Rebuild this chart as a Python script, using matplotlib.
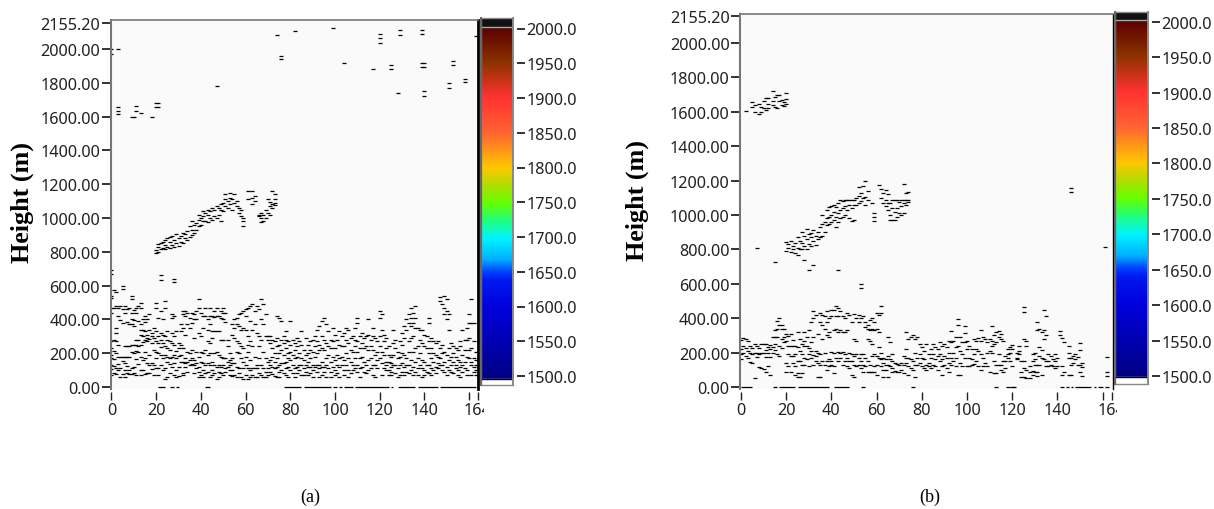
import numpy as np
import matplotlib
matplotlib.use("Agg")
import matplotlib.pyplot as plt
from matplotlib.colors import LinearSegmentedColormap
from matplotlib.transforms import Bbox

W, H = 1214, 510
Y_TICKS = [0, 200, 400, 600, 800, 1000, 1200, 1400, 1600, 1800, 2000, 2155.2]
Y_LABELS = ["0.00", "200.00", "400.00", "600.00", "800.00", "1000.00", "1200.00",
            "1400.00", "1600.00", "1800.00", "2000.00", "2155.20"]
X_TICKS = [0, 20, 40, 60, 80, 100, 120, 140, 160, 164]
X_LABELS = ["0", "20", "40", "60", "80", "100", "120", "140", "", "164"]
CB_TICKS = [1500, 1550, 1600, 1650, 1700, 1750, 1800, 1850, 1900, 1950, 2000]
CB_LABELS = ["%.1f" % v for v in CB_TICKS]

# Panel (a): (range gate, [heights])
a_sparse = [(0,[2000,1970]),(3,[2000,1655,1635,1613]),(9,[1600]),(10,[1600]),(11,[1660,1635]),(13,[1620]),
            (18,[1600]),(20,[1680,1655]),(21,[1680,1655]),(47,[1780]),(74,[2085]),(76,[1960,1940]),(82,[2105]),
            (99,[2126]),(120,[2087,2063,2037]),(129,[2110,2082]),(139,[2115,2090,1916,1892]),(163,[2076]),
            (104,[1916]),(117,[1882]),(125,[1905,1882]),(140,[1916,1892,1749,1723]),(153,[1930,1905]),
            (151,[1800,1770]),(158,[1820,1802]),(128,[1741]),(22,[660,635]),(28,[640,620])]
a_band = [(20,[790,810]),(21,[800,830,845]),(22,[815,850]),(23,[825,860]),(24,[815,840,870]),(25,[830,880]),
          (26,[820,860,885]),(27,[840,895]),(28,[830,870]),(29,[850,905]),(30,[835,880]),(31,[860,895]),
          (32,[850,910]),(33,[880,905]),(34,[870,925]),(35,[890,950]),(36,[900,930,980]),(37,[910,960]),
          (38,[930,970]),(39,[950,990,1020]),(40,[960,1000]),(41,[980,1010,1040]),(42,[985,1030]),
          (43,[975,1020,1050]),(44,[1000,1040]),(45,[990,1060]),(46,[1010,1050]),(47,[1000,1070]),
          (48,[1020,1060]),(49,[980,1050,1080]),(50,[1040,1090]),(51,[1070,1110,1140]),(52,[1060,1100]),
          (53,[1080,1120,1150]),(54,[1050,1110]),(55,[1090,1140]),(56,[1070,1100]),(57,[1030,1060]),
          (58,[1010,1050]),(59,[950,985,1000]),(61,[1160,1110]),(63,[1085,1120,1160]),(64,[1100,1130]),
          (66,[1010,1020]),(67,[975,1000,1030]),(68,[985,1015]),(69,[1050,1000]),(70,[1030,1110]),
          (71,[1020,1070,1095]),(72,[1160,1080,1060]),(73,[1140,1090,1110,1075])]
a_cloud1 = [(0,[695,670,540,525,470,440,270,230,190,170,130,105,70]),(1,[575,465,280,215,165,125,85]),
            (2,[560,480,350,320,275,200,115,75]),(3,[465,420,250,180,135,100]),(4,[480,395,180,110,60]),
            (5,[600,580,460,380,180,155,75]),(6,[480,440,245,180,140,100,60]),(7,[460,385,240,180,125,85]),
            (8,[465,370,240,180,100,75]),(9,[540,520,440,400,370,250,210,110,75]),(10,[455,395,360,250,200,120,80]),
            (11,[470,440,280,250,215,165,70]),(12,[480,390,280,240,210,135]),(13,[500,470,370,340,310,250,180,100,70]),
            (14,[400,340,300,265,160,100]),(15,[420,385,330,280,210,170,75]),(16,[400,310,290,270,140,80]),
            (17,[430,340,285,190,130,80]),(18,[320,300,260,140,105]),(19,[350,290,220,130,70]),
            (20,[500,470,330,275,210,170,110]),(21,[410,300,260,200,115,70]),(22,[450,320,280,235,190,130]),
            (23,[400,305,260,170,100]),(24,[510,470,300,240,190,110,50]),(25,[330,280,230,180,150,60]),
            (26,[270,220,170,135,80]),(27,[430,410,320,260,180,120]),(28,[420,300,250,190,140,70]),
            (29,[330,215,170,100,60]),(30,[260,230,185,120,65]),(31,[370,330,250,190,150]),
            (32,[450,430,350,230,145,85,70]),(33,[450,420,310,170,140,120]),(34,[440,370,210,150,90]),
            (35,[410,350,200,160,130]),(36,[440,380,220,170,135]),(37,[430,400,290,160,130,80]),
            (38,[450,400,210,140,110]),(39,[520,470,320,180,120,90,60]),(40,[440,300,210,150,70]),
            (41,[420,350,200,140,100,60]),(42,[465,420,220,130,80]),(43,[400,340,270,190,140,90])]
a_cloud2 = [(44,[470,420,370,260,200,130,60]),(45,[420,330,290,150,100,70]),(46,[450,415,330,200,130,80]),
            (47,[470,420,330,210,120,50]),(48,[420,330,190,130,90,60]),(49,[450,410,280,180,120,80]),
            (50,[470,440,400,280,170,130,70]),(51,[440,385,170,110,90]),(52,[280,240,150,120]),
            (53,[200,160,130,100,70]),(54,[370,310,170,140,100,65]),(55,[400,350,290,140,70]),
            (56,[410,370,270,210,120,60]),(57,[430,360,260,200,110,80]),(58,[440,340,240,170,60]),
            (59,[450,350,230,150,110,50]),(60,[460,420,340,180,130,70]),(61,[470,300,250,210,110,50]),
            (62,[480,390,270,160,100,60]),(63,[490,340,240,110,70]),(64,[450,370,180,110,60]),
            (65,[480,320,130,110,60]),(66,[460,300,240,170,80]),(67,[520,400,280,130,70]),
            (68,[490,370,210,110,60]),(69,[430,300,170,90,60]),(70,[300,280,150,110,70]),
            (71,[300,260,160,130,90]),(72,[280,230,180,120,75]),(73,[270,200,150,110,65]),
            (74,[420,290,240,170,120,60]),(75,[410,250,200,130,90,60]),(76,[390,280,220,140,100]),
            (77,[300,260,190,140,80]),(78,[330,280,230,150,110,70]),(79,[270,200,170,120,60]),
            (80,[390,250,210,160,100]),(81,[280,190,130,80]),(82,[260,220,170,110,60]),
            (83,[290,240,180,120,80]),(84,[270,200,130,100]),(85,[330,250,170,130,70]),
            (86,[220,160,110,70]),(87,[290,190,130,90])]
a_cloud3 = [(88,[250,200,150,120,70]),(89,[270,220,170,120,80]),(90,[280,210,130,100,60]),(91,[300,240,180,120]),
            (92,[340,270,200,130,90]),(93,[360,250,220,130,110,60]),(94,[390,300,230,150,120,70]),
            (95,[410,280,220,120,90]),(96,[370,260,170,130,60]),(97,[330,240,190,110]),
            (98,[280,230,150,90,60]),(99,[350,270,180,120]),(100,[310,230,160,100,70]),
            (101,[280,190,130,80]),(102,[330,250,170,120,60]),(103,[300,240,180,130]),
            (104,[320,240,160,100,70]),(105,[350,280,200,130]),(106,[340,260,170,100,60]),
            (107,[290,220,150,80]),(108,[300,210,130,100]),(109,[350,280,240,170,110]),
            (110,[410,380,270,210,130,90]),(111,[300,230,170,110,60]),(112,[320,260,180,120]),
            (113,[290,230,150,90]),(114,[300,240,130,80]),(115,[400,310,220,160,100]),
            (116,[280,240,170,110]),(117,[350,300,220,130,70]),(118,[290,190,130,60]),
            (119,[270,210,160,110]),(120,[450,410,300,240,170]),(121,[430,340,210,140,70]),
            (122,[310,270,190,110]),(123,[290,230,150,130,100]),(124,[240,190,150,100,70]),
            (125,[180,140,120,90,70]),(126,[340,260,190,130]),(127,[280,230,130,80]),
            (128,[210,170,110,60]),(129,[270,180,130,70])]
a_cloud4 = [(130,[320,250,200,140,90]),(131,[360,290,190,120,70]),(132,[400,340,170,130,90]),
            (133,[430,380,270,210,130,80]),(134,[470,410,360,290,160,100]),(135,[440,380,300,210,120,70]),
            (136,[480,410,350,230,150,90]),(137,[350,240,170,110,70]),(138,[340,280,200,130]),
            (139,[340,260,160,110,60]),(140,[310,240,150,100,70]),(141,[300,230,130,90]),
            (142,[410,380,270,200,130,80]),(143,[290,230,170,110,70]),(144,[270,200,150,100]),
            (145,[260,190,120,80]),(146,[270,180,140,110]),(147,[530,510,230,170,130]),
            (148,[490,250,200,130,100]),(149,[540,470,430,210,150,90]),(150,[520,450,400,190,120,70]),
            (151,[430,340,230,160,100]),(152,[260,180,130,90]),(153,[240,200,150,80]),
            (154,[230,180,130,110]),(155,[220,160,100,70]),(156,[270,240,150,120,60]),
            (157,[340,190,130,90]),(158,[280,220,150,110]),(159,[350,280,180,100,70]),
            (160,[430,380,290,220,170]),(161,[520,380,230,150,130,70]),(162,[380,270,170,120,90]),
            (163,[210,160,130,100,70])]
a_floor = [(21,24),(26,28),(29,30),(42,44),(77,85),(86,98),(99,101),(102,103),(104,108),(109,124),
           (125,126),(128,136),(137,146),(147,163)]

# Panel (b): (range gate, [heights])
b_sparse = [(2,[1606]),(5,[1658,1629]),(6,[1600,1640]),(8,[1590,1648]),(9,[1600,1630]),(10,[1620,1665]),
            (11,[1683,1610]),(12,[1648,1680,1625]),(14,[1722,1640,1665]),(15,[1687,1630]),(16,[1625,1695]),
            (17,[1696,1660]),(18,[1670,1640]),(19,[1633,1655]),(20,[1710,1677,1648]),(146,[1158,1131]),
            (161,[815]),(7,[810]),(15,[725]),(28,[741]),(30,[683]),(32,[708]),(43,[683]),(53,[600,574])]
b_band = [(20,[845,790]),(21,[807,830]),(22,[850,784]),(23,[820,800]),(24,[840,780]),(25,[875,810,770]),
          (26,[850,800]),(27,[903,840,800]),(28,[880,820]),(29,[917,860,805]),(30,[890,830]),
          (31,[894,870,820]),(32,[915,850]),(33,[826,880]),(34,[900,860]),(35,[875,930]),(36,[1000,950,880]),
          (37,[960,900]),(38,[1030,980,940]),(39,[1048,990,950]),(40,[1000,1050,960]),(41,[971,1020,1060]),
          (42,[1048,990,930]),(43,[1070,1010,960]),(44,[1087,1030,980]),(45,[1040,990,1080]),
          (46,[1090,1050,1000]),(47,[1087,1030]),(48,[1085,1060,985]),(49,[1087,1040,965]),(50,[971,1090,1060]),
          (51,[1100,1060]),(52,[1164,1110,1070]),(53,[1130,1080]),(54,[1170,1100]),(55,[1197,1106,1060]),
          (56,[1140,1090]),(58,[1067]),(59,[990,965,1010]),(61,[1174]),(62,[1150,1100]),(63,[1130,1070]),
          (64,[1145,1087,1050]),(65,[1120,1070,1030]),(66,[1067,1000,970]),(67,[971,1040,1090]),
          (68,[1090,1020,970]),(69,[1085,1040,990]),(70,[1075,1010]),(71,[1090,1050,1000]),
          (72,[1010,1183,1090,1070]),(73,[1130,1085,1060]),(74,[1135,1087,1075])]
b_cloud1 = [(0,[275,220,190,165]),(1,[285,240,200]),(2,[280,225,180]),(3,[265,210,170]),(4,[240,200,145]),
            (5,[225,190,140]),(6,[250,200,50]),(7,[240,200,175]),(8,[225,190,115]),(9,[250,195,110]),
            (10,[250,200,105]),(11,[250,215,175,90]),(12,[235,200,125]),(13,[245,220,175,70]),
            (14,[290,235,200]),(15,[330,290,250,215]),(16,[385,340,290,190]),(17,[400,360,240,180]),
            (18,[360,340,280,225]),(19,[340,290,260]),(20,[310,270,140,90]),(21,[295,240,190,120]),
            (22,[310,240,180,90]),(23,[275,240,180,140]),(24,[240,190,120,70]),(25,[320,235,150,80,60]),
            (26,[280,210,150,60]),(27,[250,190,130,80]),(28,[320,270,240,170,130]),(29,[290,240,160]),
            (30,[330,225,190,120]),(31,[380,260,210,170]),(32,[440,400,290,185,130]),(33,[420,210,180,150]),
            (34,[310,200,140,60]),(35,[430,380,190,130,60]),(36,[420,360,280,150]),(37,[410,340,200,130]),
            (38,[440,380,300,150,100]),(39,[400,320,290,160,120]),(40,[450,410,205,150,130]),
            (41,[450,330,200,120,80]),(42,[470,410,340,170]),(43,[460,410,320,205,150])]
b_cloud2 = [(44,[440,330,200,170]),(45,[410,320,205,130]),(46,[400,320,190,150]),(47,[430,330,170,120]),
            (48,[420,200,150,110]),(49,[380,190,150,70]),(50,[425,280,180,130,60]),(51,[400,270,190,120]),
            (52,[420,380,170,130]),(53,[400,190,150,110]),(54,[410,190,130,90]),(55,[380,350,170,120]),
            (56,[360,340,280,150,90]),(57,[390,330,270,130,90]),(58,[400,340,250,180,90]),
            (59,[380,330,190,120,90]),(60,[430,340,180,130,70]),(61,[420,320,230,170]),
            (62,[470,430,200,165,120]),(63,[170,140,100,60]),(64,[160,130,100]),(65,[290,180,130,60]),
            (66,[260,160,120]),(67,[190,150,110,90]),(68,[140,95]),(69,[135,90]),(70,[130,90]),
            (71,[140,100]),(72,[180,130,80]),(73,[320,220,170,140]),(74,[280,170,120,70]),(75,[290,160,110]),
            (76,[300,150,100]),(77,[280,200,130,60]),(78,[290,170,130]),(79,[250,190,140]),(80,[230,170,120]),
            (81,[210,160,110]),(82,[250,130,100]),(83,[190,140,120])]
b_cloud3 = [(84,[220,170,110]),(85,[250,190,130]),(86,[230,165,120]),(87,[220,180,100]),(88,[260,190,150]),
            (89,[240,160,120,70]),(90,[250,180,130]),(91,[230,170,110]),(92,[270,200,140,90]),
            (93,[328,260,170,130]),(94,[270,200,150]),(95,[290,230,170,120]),(96,[396,360,240,70]),
            (97,[290,210,140,70]),(98,[260,190,120]),(99,[353,314,260,170]),(100,[270,220,120]),
            (101,[240,170,125]),(102,[220,160,130]),(103,[280,190,135]),(104,[270,220,150]),(105,[285,210,125]),
            (106,[334,270,190,100]),(107,[290,170,125]),(108,[280,140]),(109,[260,200,120]),(110,[280,210,90]),
            (111,[353,270,240,200]),(112,[300,250,150,80]),(113,[320,260,130,80]),(114,[328,290,190,130]),
            (115,[310,280,130,100]),(116,[270,150,90]),(117,[180,150,110]),(118,[220,190,170]),
            (119,[230,195,150]),(120,[245,220,120])]
b_cloud4 = [(122,[200,170,160]),(123,[240,210,190]),(124,[60,150,90]),(125,[465,435,280,150,110,60]),
            (126,[270,240,100,50]),(128,[50,120,90]),(129,[190,150,91,70]),(130,[200,160,130,85]),
            (131,[380,334,130,90,65]),(132,[340,230,180,130]),(133,[320,217,170,70]),(134,[450,330,280,165]),
            (135,[415,300,150,125]),(136,[190,150,120]),(137,[180,130]),(138,[160,120]),(139,[190,150,110]),
            (140,[170,125]),(141,[328,300]),(142,[285,120,70]),(143,[260,90]),(145,[237,200,170,70]),
            (146,[170,130,70]),(147,[178,140]),(148,[190,160]),(149,[175,130]),(150,[256,217,130,90]),
            (151,[140,115,62]),(162,[175,87,62])]
b_floor = [(0,5),(17,24),(25,39),(41,48),(141,143),(144,145),(146,147),(148,155),(156,157),(158,160),(161,163)]
b_floor_dots = [15, 54, 76, 113, 118, 120, 121]

cb_values = [1500, 1600, 1640, 1652, 1670, 1700, 1725, 1750, 1780, 1800, 1825, 1850, 1900, 1925, 1950, 2000]
cb_colors = ["#000082", "#0000dc", "#0018f0", "#0040ff", "#00b0ff", "#00f4ff", "#20ff80", "#64ff00",
             "#c0d800", "#ffc800", "#ff9618", "#ff6432", "#ff3232", "#c83218", "#8c3200", "#5a0000"]

FONT = "Noto Sans"
SERIF = "Liberation Serif"
GRAY = "#777777"
TXT = "#222222"
TICK_SIZE = 11.7
DASH_LEN = 2.5
DASH_W = 0.9

cmap = LinearSegmentedColormap.from_list(
    "height", [((v - 1500) / 500, c) for v, c in zip(cb_values, cb_colors)], N=512)

fig = plt.figure(figsize=(W / 100, H / 100), dpi=100, facecolor="white")


def px_axes(left, top, right, bottom):
    return fig.add_axes([left / W, 1 - bottom / H, (right - left) / W, (bottom - top) / H])


def expand(groups):
    xs, ys = [], []
    for group in groups:
        for x, heights in group:
            for h in heights:
                xs.append(x)
                ys.append(h)
    return xs, ys


def panel(box, xlim, ylim, groups, floor, dots, right_lw, clip_right):
    ax = px_axes(*box)
    ax.set_facecolor("#fafafa")
    # moving a spine rebuilds the ticks, so this comes before any tick styling
    ax.spines["bottom"].set_visible(False)
    ax.spines["bottom"].set_position(("outward", 2.5))
    ax.set_xlim(*xlim)
    ax.set_ylim(*ylim)
    xs, ys = expand(groups)
    ax.plot(xs, ys, ls="", marker="_", ms=DASH_LEN, mew=DASH_W, color="black", clip_on=True)
    ax.hlines([0] * len(floor), [s for s, _ in floor], [e for _, e in floor], color="black", lw=DASH_W)
    if dots:
        ax.plot(dots, [0] * len(dots), ls="", marker="_", ms=DASH_LEN, mew=DASH_W, color="black")
    ax.set_yticks(Y_TICKS, Y_LABELS, fontfamily=FONT, fontsize=TICK_SIZE, color=TXT)
    ax.set_xticks(X_TICKS, X_LABELS, fontfamily=FONT, fontsize=TICK_SIZE, color=TXT)
    ax.tick_params(axis="y", length=6.5, width=1.3, color="#222222", pad=1)
    ax.tick_params(axis="x", length=5.5, width=1.0, color="#222222", pad=1.5)
    ax.spines["left"].set_color(GRAY)
    ax.spines["left"].set_linewidth(1.5)
    ax.spines["top"].set_color(GRAY)
    ax.spines["top"].set_linewidth(1.2)
    ax.spines["right"].set_color("black")
    ax.spines["right"].set_linewidth(right_lw)
    clip = Bbox([[0, 0], [clip_right, H]])
    for lab in ax.get_xticklabels():
        lab.set_clip_box(clip)
        lab.set_clip_on(True)
    return ax


def colorbar(left, right, top_block, ramp_top, ramp_bottom, white_bottom, y2000, y1500):
    scale = (y1500 - y2000) / 500
    ax = px_axes(left, top_block, right, white_bottom)
    ax.spines["right"].set_position(("outward", 3))
    ax.spines["right"].set_visible(False)
    ax.set_xlim(0, 1)
    ax.set_ylim(2000 - (white_bottom - y2000) / scale, 2000 + (y2000 - top_block) / scale)
    lo = 2000 - (ramp_bottom - y2000) / scale
    hi = 2000 + (y2000 - ramp_top) / scale
    levels = np.linspace(1500, 2000, 512)[::-1].reshape(-1, 1)
    ax.imshow(levels, cmap=cmap, vmin=1500, vmax=2000, extent=(0, 1, lo, hi), aspect="auto", zorder=1)
    ax.axhspan(hi, ax.get_ylim()[1], color="#111111", zorder=2)
    ax.axhspan(ax.get_ylim()[0], lo, color="white", zorder=2)
    ax.axhline(lo, color="black", lw=1.0, zorder=3)
    ax.axhline(hi, color="#aaaaaa", lw=1.0, zorder=3)
    for s in ax.spines.values():
        s.set_color("#888888")
        s.set_linewidth(1.0)
    ax.axvline(1, color="#888888", lw=1.4, zorder=5, clip_on=False)
    ax.axvline(0, color="#666666", lw=1.4, zorder=5, clip_on=False)
    ax.set_xticks([])
    ax.yaxis.tick_right()
    ax.set_yticks(CB_TICKS, CB_LABELS, fontfamily=FONT, fontsize=TICK_SIZE, color=TXT)
    ax.tick_params(axis="y", length=6, width=1.3, color="#222222", pad=0.5)
    return ax


# panel (a)
sa = 0.169
ax_a = panel((110.5, 21, 478, 390), ((110.5 - 111.5) / 2.235, (478 - 111.5) / 2.235),
             ((388 - 390) / sa, (388 - 21) / sa),
             [a_sparse, a_band, a_cloud1, a_cloud2, a_cloud3, a_cloud4], a_floor, None, 2.0, 484)
colorbar(481, 513, 19, 28, 380, 386, 29.5, 377)

# panel (b)
sb = 0.172
ax_b = panel((740, 15, 1113, 390), ((740 - 741) / 2.26, (1113 - 741) / 2.26),
             ((388 - 390) / sb, (388 - 15) / sb),
             [b_sparse, b_band, b_cloud1, b_cloud2, b_cloud3, b_cloud4], b_floor, b_floor_dots, 1.0, 1117)
colorbar(1115, 1148, 13, 21, 378, 385, 22.7, 377)

for x, y in [(22, 203), (637, 201)]:
    fig.text(x / W, 1 - y / H, "Height (m)", rotation=90, ha="center", va="center",
             family=SERIF, fontweight="bold", fontsize=18.8, color="black")
fig.text(310 / W, 1 - 497 / H, "(a)", ha="center", va="center", family=SERIF, fontsize=13, color="black")
fig.text(930 / W, 1 - 497 / H, "(b)", ha="center", va="center", family=SERIF, fontsize=13, color="black")

fig.savefig("out.png", dpi=100, facecolor="white")
